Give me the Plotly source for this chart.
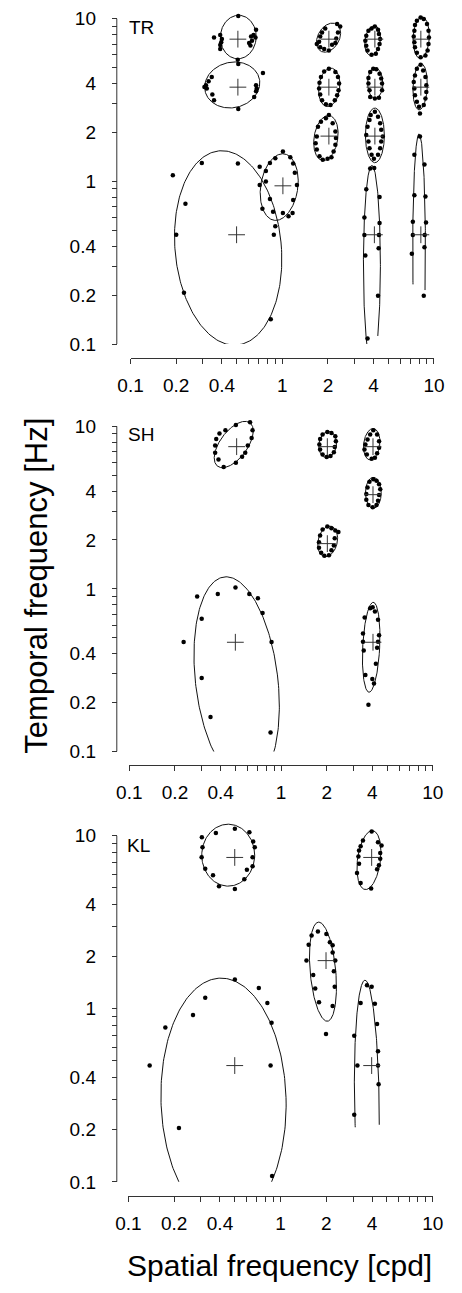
import numpy as np
import plotly.graph_objects as go

W, H = 462, 1293

# ---------------- tick labels ----------------
TICK_VALS = [0.1, 0.2, 0.3, 0.4, 0.5, 0.6, 0.7, 0.8, 0.9, 1, 2, 3, 4, 5, 6, 7, 8, 9, 10]
TICK_TEXT = ["0.1", "0.2", "", "0.4", "", "", "", "", "", "1", "2", "", "4", "", "", "", "", "", "10"]
PANEL_NAMES = ["TR", "SH", "KL"]
X_TITLE = "Spatial frequency [cpd]"
Y_TITLE = "Temporal frequency [Hz]"

# ---------------- observer TR ----------------
TR_DOT_SF = [0.513, 0.355, 0.390, 0.400, 0.396, 0.390, 0.390, 0.672, 0.647, 0.623, 0.666, 0.632, 0.605, 0.617, 0.509,
             0.513, 0.746, 0.343, 0.327, 0.314, 0.307, 0.318, 0.346, 0.355, 0.672, 0.679, 0.672, 0.653, 0.513,
             0.19, 0.295, 0.51, 0.23, 0.20, 0.225, 0.84, 0.90, 0.88,
             1.01, 0.90, 0.83, 1.13, 1.18, 0.71, 0.78, 1.21, 0.78, 0.71, 1.25, 0.83, 1.18, 0.74, 0.87, 1.01, 1.10, 1.17,
             2.41, 2.30, 1.92, 1.83, 1.78, 1.75, 1.69, 1.78, 1.89, 2.03, 2.13, 2.24, 2.27, 2.33,
             4.08, 3.88, 3.70, 3.58, 3.53, 3.58, 3.65, 3.88, 4.14, 4.28, 4.38, 4.42, 4.34, 4.28,
             8.17, 7.72, 7.50, 7.43, 7.36, 7.43, 7.50, 7.72, 8.17, 8.79, 9.08, 9.21, 9.27, 9.21, 9.00, 8.57,
             2.03, 1.89, 1.80, 1.76, 1.75, 1.78, 1.83, 1.94, 2.08, 2.22, 2.30, 2.35, 2.37, 2.33, 2.24,
             3.98, 4.17, 3.80, 4.38, 3.70, 4.49, 3.70, 4.55, 3.76, 4.55, 3.80, 4.08, 4.34,
             8.17, 7.72, 7.50, 7.36, 7.43, 7.50, 7.72, 7.98, 8.57, 8.79, 8.91, 8.91, 8.79, 8.49, 8.09,
             2.03, 1.94, 1.80, 1.72, 1.69, 1.66, 1.69, 1.76, 1.85, 1.99, 2.11, 2.18, 2.24, 2.26, 2.24, 2.15,
             4.08, 3.83, 3.76, 3.65, 3.58, 3.70, 3.76, 3.88, 4.02, 4.28, 4.42, 4.49, 4.60, 4.49, 4.42, 4.28,
             3.80, 4.04, 3.58, 4.38, 3.48, 4.38, 3.48, 4.34, 4.32, 3.53, 4.28, 3.65,
             8.09, 7.43, 8.66, 7.43, 8.79, 7.26, 8.87, 7.26, 8.69, 8.66, 7.15, 8.57]
TR_DOT_TF = [10.4, 7.69, 7.96, 7.52, 7.17, 6.91, 6.53, 8.57, 7.96, 7.80, 7.69, 7.34, 7.11, 6.85, 5.60,
             5.27, 4.64, 4.39, 4.13, 3.90, 3.81, 3.73, 3.43, 3.16, 3.90, 3.73, 3.59, 3.31, 2.79,
             1.09, 1.30, 1.29, 0.73, 0.47, 0.207, 0.142, 0.53, 0.47,
             1.53, 1.39, 1.30, 1.41, 1.29, 1.23, 1.16, 1.13, 1.00, 0.95, 0.95, 0.78, 0.77, 0.68, 0.65, 0.64, 0.61, 0.64,
             8.98, 9.28, 8.73, 8.25, 7.80, 7.24, 7.01, 6.68, 6.53, 6.38, 6.92, 7.11, 7.58, 8.25,
             8.98, 8.73, 8.45, 7.88, 7.34, 6.84, 6.38, 6.01, 6.09, 6.53, 7.01, 7.52, 8.07, 8.57,
             10.2, 9.72, 9.16, 8.45, 7.80, 7.17, 6.68, 6.18, 5.81, 5.95, 6.38, 7.01, 7.69, 8.45, 9.28, 9.96,
             4.93, 4.75, 4.39, 4.05, 3.73, 3.43, 3.16, 2.98, 2.95, 3.16, 3.39, 3.64, 4.00, 4.39, 4.71,
             4.93, 4.89, 4.71, 4.60, 4.32, 4.29, 4.00, 4.00, 3.64, 3.64, 3.31, 3.24, 3.27,
             5.22, 4.93, 4.49, 4.09, 3.73, 3.39, 3.09, 2.88, 2.95, 3.24, 3.55, 3.90, 4.39, 4.82, 2.62,
             2.56, 2.45, 2.33, 2.17, 1.89, 1.72, 1.57, 1.43, 1.36, 1.38, 1.41, 1.53, 1.68, 1.85, 2.03, 2.28,
             2.68, 2.56, 2.39, 2.17, 1.93, 1.76, 1.60, 1.46, 1.38, 1.46, 1.60, 1.76, 1.89, 2.08, 2.28, 2.50,
             1.20, 1.21, 0.894, 0.802, 0.601, 0.555, 0.469, 0.469, 0.388, 0.350, 0.198, 0.108,
             1.89, 1.46, 1.27, 0.822, 0.807, 0.565, 0.560, 0.469, 0.469, 0.394, 0.359, 0.198]
TR_CROSS_SF = [0.51, 0.51, 0.50, 1.01, 2.03, 4.08, 8.2, 2.03, 4.08, 8.2, 2.03, 4.08, 4.05, 8.2]
TR_CROSS_TF = [7.5, 3.8, 0.47, 0.94, 7.5, 7.5, 7.5, 3.8, 3.8, 3.8, 1.9, 1.9, 0.47, 0.47]
# ellipse fits: centre (cpd, Hz), semi-axes in log10 units, tilt (deg), drawn arc (deg)
TR_ELL_SF = [0.513, 0.468, 0.440, 0.955, 2.02, 3.94, 8.24, 2.04, 4.10, 8.11, 1.94, 4.08, 3.90, 7.98]
TR_ELL_TF = [7.73, 3.92, 0.390, 0.923, 7.66, 7.35, 7.66, 3.79, 4.02, 3.82, 1.85, 1.92, 0.308, 0.385]
TR_ELL_A = [0.118, 0.183, 0.35, 0.122, 0.069, 0.050, 0.053, 0.069, 0.050, 0.047, 0.078, 0.0625, 0.056, 0.042]
TR_ELL_B = [0.134, 0.140, 0.60, 0.207, 0.098, 0.092, 0.128, 0.119, 0.094, 0.142, 0.140, 0.168, 0.61, 0.707]
TR_ELL_TILT = [-5, 10, 6, -10, -35, -10, -3, -8, 0, -3, -10, 0, 0, 0]
TR_ELL_ARC0 = [0, 0, 0, 0, 0, 0, 0, 0, 0, 0, 0, 0, -46, -21]
TR_ELL_ARC1 = [360, 360, 360, 360, 360, 360, 360, 360, 360, 360, 360, 360, 237, 198]

# ---------------- observer SH ----------------
SH_DOT_SF = [0.625, 0.504, 0.430, 0.393, 0.374, 0.368, 0.368, 0.387, 0.419, 0.504, 0.554, 0.581, 0.604, 0.640, 0.649,
             0.228, 0.280, 0.300, 0.383, 0.501, 0.618, 0.704, 0.756, 0.866, 0.300, 0.343, 0.853,
             2.02, 2.15, 2.28, 2.30, 2.26, 2.23, 2.12, 2.00, 1.88, 1.81, 1.79, 1.81, 1.88,
             4.06, 3.87, 3.72, 3.60, 3.55, 3.68, 3.96, 4.16, 4.30, 4.43, 4.43, 4.30,
             4.06, 4.26, 4.43, 4.51, 4.43, 4.36, 4.26, 4.02, 3.77, 3.65, 3.65, 3.72, 3.83,
             2.02, 2.15, 2.28, 2.39, 2.26, 2.23, 2.15, 2.07, 1.93, 1.84, 1.78, 1.78, 1.81, 1.88,
             3.87, 4.02, 4.16, 3.56, 4.36, 3.47, 4.43, 3.47, 4.36, 3.51, 4.30, 4.22, 3.60, 4.00, 4.10, 3.77]
SH_DOT_TF = [10.6, 10.2, 9.45, 9.03, 8.37, 7.63, 6.87, 6.26, 5.62, 5.97, 6.50, 6.87, 7.63, 8.49, 9.45,
             0.471, 0.898, 0.656, 0.932, 1.02, 0.932, 0.878, 0.711, 0.471, 0.283, 0.163, 0.131,
             9.23, 9.10, 8.69, 8.10, 7.47, 6.94, 6.56, 6.47, 6.72, 7.21, 7.73, 8.37, 8.90,
             9.45, 8.90, 8.30, 7.73, 7.21, 6.72, 6.32, 6.41, 6.82, 7.38, 8.10, 8.90,
             4.73, 4.62, 4.41, 4.11, 3.78, 3.49, 3.28, 3.18, 3.28, 3.54, 3.83, 4.21, 4.56,
             2.42, 2.36, 2.29, 2.24, 2.05, 1.85, 1.73, 1.61, 1.60, 1.67, 1.79, 1.94, 2.13, 2.32,
             0.762, 0.773, 0.727, 0.668, 0.647, 0.532, 0.519, 0.473, 0.473, 0.419, 0.435, 0.347, 0.296, 0.279, 0.262, 0.194]
SH_CROSS_SF = [0.51, 0.50, 2.02, 4.04, 4.04, 2.02, 4.04]
SH_CROSS_TF = [7.5, 0.47, 7.5, 7.5, 3.8, 1.9, 0.47]
SH_ELL_SF = [0.488, 0.510, 2.03, 3.96, 4.06, 2.03, 3.93]
SH_ELL_TF = [7.73, 0.273, 7.73, 7.76, 3.90, 1.96, 0.438]
SH_ELL_A = [0.0875, 0.271, 0.058, 0.053, 0.052, 0.063, 0.056]
SH_ELL_B = [0.171, 0.643, 0.081, 0.097, 0.095, 0.096, 0.277]
SH_ELL_TILT = [-40, 7.5, -10, -8, 0, -15, -3]
SH_ELL_ARC0 = [0, 0, 0, 0, 0, 0, 0]
SH_ELL_ARC1 = [360, 360, 360, 360, 360, 360, 360]

# ---------------- observer KL ----------------
KL_DOT_SF = [0.304, 0.376, 0.501, 0.624, 0.661, 0.677, 0.307, 0.303, 0.655, 0.320, 0.601, 0.655, 0.360, 0.578, 0.394, 0.501,
             0.138, 0.175, 0.215, 0.266, 0.320, 0.501, 0.720, 0.819, 0.873, 0.860, 0.880,
             3.97, 3.48, 3.36, 3.28, 3.25, 3.28, 3.18, 3.36, 3.94, 4.31, 4.43, 4.52, 4.52, 4.61, 4.37,
             1.76, 1.60, 2.00, 1.53, 2.11, 2.20, 2.20, 1.48, 2.29, 1.64, 2.24, 1.69, 2.27, 1.79, 2.20, 1.99,
             3.70, 3.97, 3.36, 4.17, 4.31, 3.05, 4.37, 3.20, 4.37, 4.41, 3.05]
KL_DOT_TF = [9.80, 10.4, 11.0, 10.5, 9.26, 8.59, 8.59, 7.53, 7.53, 6.45, 6.37, 6.66, 5.91, 5.61, 5.12, 4.92,
             0.471, 0.781, 0.205, 0.920, 1.16, 1.48, 1.32, 1.08, 0.831, 0.471, 0.108,
             10.6, 9.39, 8.71, 8.23, 7.60, 6.89, 6.10, 5.34, 4.96, 6.40, 6.75, 7.36, 7.96, 8.79, 9.18,
             2.80, 2.65, 2.71, 2.35, 2.43, 2.33, 2.12, 1.90, 1.90, 1.57, 1.65, 1.31, 1.34, 1.09, 1.04, 0.716,
             1.37, 1.34, 1.08, 1.07, 0.817, 0.700, 0.569, 0.471, 0.471, 0.366, 0.244]
KL_CROSS_SF = [0.50, 0.50, 3.97, 1.99, 3.97]
KL_CROSS_TF = [7.5, 0.47, 7.5, 1.9, 0.47]
KL_ELL_SF = [0.453, 0.422, 3.81, 1.90, 3.69]
KL_ELL_TF = [7.73, 0.297, 7.24, 1.64, 0.297]
KL_ELL_A = [0.174, 0.411, 0.075, 0.084, 0.081]
KL_ELL_B = [0.179, 0.705, 0.172, 0.288, 0.693]
KL_ELL_TILT = [0, 2, -9, 6, 1]
KL_ELL_ARC0 = [0, 0, 0, 0, -12]
KL_ELL_ARC1 = [360, 360, 360, 360, 193]

DATA = [
    (TR_DOT_SF, TR_DOT_TF, TR_CROSS_SF, TR_CROSS_TF,
     TR_ELL_SF, TR_ELL_TF, TR_ELL_A, TR_ELL_B, TR_ELL_TILT, TR_ELL_ARC0, TR_ELL_ARC1),
    (SH_DOT_SF, SH_DOT_TF, SH_CROSS_SF, SH_CROSS_TF,
     SH_ELL_SF, SH_ELL_TF, SH_ELL_A, SH_ELL_B, SH_ELL_TILT, SH_ELL_ARC0, SH_ELL_ARC1),
    (KL_DOT_SF, KL_DOT_TF, KL_CROSS_SF, KL_CROSS_TF,
     KL_ELL_SF, KL_ELL_TF, KL_ELL_A, KL_ELL_B, KL_ELL_TILT, KL_ELL_ARC0, KL_ELL_ARC1),
]

# panel geometry in pixels: x of 0.1 / 10, y of 0.1, top of plot area, px per decade (y), x-axis line y
GEO = [
    dict(x0=124.0, x1=444.0, ybot=347.0, ytop=5.0, dec=164.0, xline=361.0, label_y=28.0),
    dict(x0=122.7, x1=442.7, ybot=758.0, ytop=415.0, dec=164.0, xline=772.0, label_y=438.0),
    dict(x0=121.7, x1=442.7, ybot=1192.0, ytop=825.0, dec=174.5, xline=1206.0, label_y=853.0),
]
YLINE_X = 109.5
FONT = "Liberation Sans, Arial, Helvetica, sans-serif"


def ellipse_curve(csf, ctf, a, b, tilt, t0, t1, n=241):
    t = np.radians(np.linspace(t0, t1, n))
    th = np.radians(tilt)
    u = a * np.cos(t)
    v = b * np.sin(t)
    lx = np.log10(csf) + u * np.cos(th) - v * np.sin(th)
    ly = np.log10(ctf) + u * np.sin(th) + v * np.cos(th)
    return 10 ** lx, 10 ** ly


fig = go.Figure()
shapes = []
annotations = []
layout_axes = {}

for i, (dsf, dtf, csf, ctf, esf, etf, ea, eb, etilt, e0, e1) in enumerate(DATA):
    g = GEO[i]
    sfx = "" if i == 0 else str(i + 1)
    xa, ya = "x" + sfx, "y" + sfx

    ex, ey = [], []
    for k in range(len(esf)):
        x, y = ellipse_curve(esf[k], etf[k], ea[k], eb[k], etilt[k], e0[k], e1[k])
        ex += list(x) + [None]
        ey += list(y) + [None]
    fig.add_trace(go.Scatter(x=ex, y=ey, mode="lines", line=dict(color="#111", width=1),
                             xaxis=xa, yaxis=ya, hoverinfo="skip"))
    fig.add_trace(go.Scatter(x=dsf, y=dtf, mode="markers", cliponaxis=False,
                             marker=dict(color="black", size=4.5, line=dict(width=0)),
                             xaxis=xa, yaxis=ya))
    fig.add_trace(go.Scatter(x=csf, y=ctf, mode="markers", cliponaxis=False,
                             marker=dict(symbol="cross-thin", size=12, line=dict(color="#333", width=1)),
                             xaxis=xa, yaxis=ya))

    ytop_log = -1 + (g["ybot"] - g["ytop"]) / g["dec"]
    common = dict(type="log", showgrid=False, zeroline=False, ticks="outside", ticklen=5,
                  tickwidth=1, tickcolor="#333", tickvals=TICK_VALS, ticktext=TICK_TEXT,
                  tickfont=dict(family=FONT, size=19, color="black"), anchor="free")
    layout_axes["xaxis" + sfx] = dict(common, range=[-1, 1],
                                      domain=[g["x0"] / W, g["x1"] / W],
                                      position=1 - g["xline"] / H,
                                      showline=True, linecolor="#333", linewidth=1,
                                      ticklabelstandoff=5)
    layout_axes["yaxis" + sfx] = dict(common, range=[-1, ytop_log],
                                      domain=[1 - g["ybot"] / H, 1 - g["ytop"] / H],
                                      position=YLINE_X / W, showline=False,
                                      ticklabelstandoff=12)
    shapes.append(dict(type="line", xref="paper", yref=ya, x0=YLINE_X / W, x1=YLINE_X / W,
                       y0=0.1, y1=10, line=dict(color="#333", width=1)))
    annotations.append(dict(text=PANEL_NAMES[i], xref="paper", yref="paper",
                            x=(g["x0"] - 4) / W, y=1 - g["label_y"] / H,
                            xanchor="left", yanchor="middle", showarrow=False,
                            font=dict(family=FONT, size=19, color="black")))

annotations.append(dict(text=Y_TITLE, xref="paper", yref="paper", x=25 / W, y=1 - 591 / H,
                        textangle=-90, showarrow=False, xanchor="center", yanchor="middle",
                        font=dict(family=FONT, size=31, color="black")))
annotations.append(dict(text=X_TITLE, xref="paper", yref="paper", x=281.5 / W, y=1 - 1276 / H,
                        showarrow=False, xanchor="center", yanchor="middle",
                        font=dict(family=FONT, size=30, color="black")))

fig.update_layout(width=W, height=H, margin=dict(l=0, r=0, t=0, b=0),
                  paper_bgcolor="white", plot_bgcolor="white", showlegend=False,
                  shapes=shapes, annotations=annotations, **layout_axes)

fig.write_html("out.html")
